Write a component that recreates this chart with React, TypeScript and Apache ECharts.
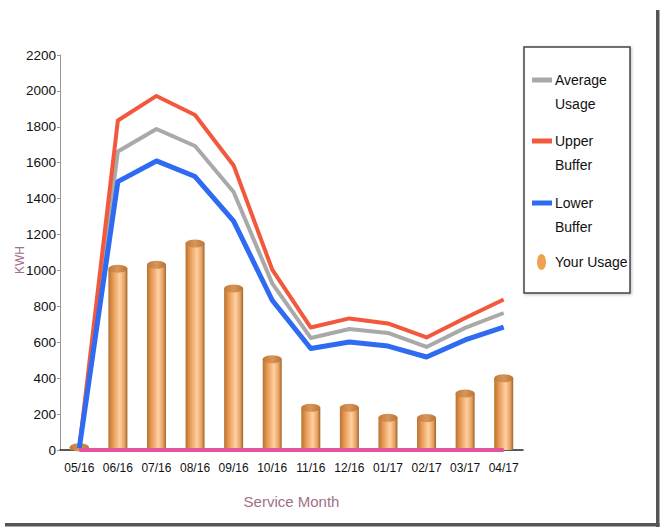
import React, { useEffect, useRef } from 'react';
import * as echarts from 'echarts';

const categories = ['05/16', '06/16', '07/16', '08/16', '09/16', '10/16', '11/16', '12/16', '01/17', '02/17', '03/17', '04/17'];
const upperBuffer = [10, 1835, 1972, 1866, 1585, 1005, 682, 733, 705, 627, 735, 838];
const averageUsage = [10, 1662, 1788, 1693, 1437, 928, 624, 674, 652, 574, 680, 763];
const lowerBuffer = [10, 1495, 1610, 1523, 1275, 834, 565, 602, 579, 518, 613, 685];
const yourUsage = [15, 1010, 1032, 1150, 900, 505, 235, 235, 180, 178, 315, 400];
const baseline = [0, 0, 0, 0, 0, 0, 0, 0, 0, 0, 0, 0];

const legendItems = [
  { lines: ['Average', 'Usage'], color: '#a9a9a9', kind: 'line' },
  { lines: ['Upper', 'Buffer'], color: '#f2583c', kind: 'line' },
  { lines: ['Lower', 'Buffer'], color: '#2f6bf2', kind: 'line' },
  { lines: ['Your Usage'], color: '#f0a050', kind: 'dot' },
];

export default function App() {
  const ref = useRef<HTMLDivElement>(null);
  useEffect(() => {
    const chart = echarts.init(ref.current!, null, { renderer: 'svg' });
    const font = '"Liberation Sans", Arial, sans-serif';
    const barGrad = new echarts.graphic.LinearGradient(0, 0, 1, 0, [
      { offset: 0, color: '#b8722f' },
      { offset: 0.25, color: '#e89a55' },
      { offset: 0.6, color: '#ffd0a2' },
      { offset: 0.85, color: '#e6a060' },
      { offset: 1, color: '#9c6228' },
    ]);
    const capGrad = new echarts.graphic.LinearGradient(0, 0, 1, 0, [
      { offset: 0, color: '#c07a3a' },
      { offset: 0.5, color: '#d99558' },
      { offset: 1, color: '#b87535' },
    ]);

    const legendY = [80, 141, 203, 262];
    const legendGraphics: any[] = [
      {
        type: 'rect',
        shape: { x: 524, y: 47, width: 106, height: 246 },
        style: { fill: '#fff', stroke: '#444', lineWidth: 1.5, shadowBlur: 3, shadowColor: 'rgba(0,0,0,0.25)', shadowOffsetX: 1, shadowOffsetY: 1 },
        z: 10,
      },
    ];
    legendItems.forEach((it, i) => {
      const y = legendY[i];
      if (it.kind === 'line') {
        legendGraphics.push({
          type: 'rect',
          shape: { x: 532, y: y - 2.5, width: 20, height: 5 },
          style: { fill: it.color },
          z: 11,
        });
      } else {
        legendGraphics.push({
          type: 'ellipse',
          shape: { cx: 541.5, cy: y, rx: 4.5, ry: 8 },
          style: { fill: it.color },
          z: 11,
        });
      }
      it.lines.forEach((t, j) => {
        legendGraphics.push({
          type: 'text',
          x: 555,
          y: y + j * 24,
          style: { text: t, fill: '#111', fontSize: 14, fontFamily: font, verticalAlign: 'middle', align: 'left' },
          z: 11,
        });
      });
    });

    chart.setOption({
      animation: false,
      backgroundColor: '#fff',
      grid: { left: 60, right: 138, top: 55, bottom: 79 },
      xAxis: {
        type: 'category',
        data: categories,
        boundaryGap: true,
        axisLine: { lineStyle: { color: '#222', width: 1.5 } },
        axisTick: { alignWithLabel: true, interval: 0, length: 5, lineStyle: { color: '#333' } },
        axisLabel: { color: '#111', fontFamily: font, fontSize: 12, margin: 12, interval: 0 },
        name: 'Service Month',
        nameLocation: 'middle',
        nameGap: 44,
        nameTextStyle: { color: '#a0708a', fontFamily: font, fontSize: 15 },
      },
      yAxis: {
        type: 'value',
        min: 0,
        max: 2200,
        interval: 200,
        axisLine: { show: true, lineStyle: { color: '#999' } },
        axisTick: { show: true, length: 3, lineStyle: { color: '#999' } },
        splitLine: { show: false },
        axisLabel: { color: '#111', fontFamily: font, fontSize: 13.5, margin: 4, formatter: (v: number) => String(v) },
      },
      graphic: [
        ...legendGraphics,
        {
          type: 'text',
          x: 20,
          y: 260,
          rotation: Math.PI / 2,
          style: { text: 'KWH', fill: '#a0708a', fontSize: 12, fontFamily: font, align: 'center', verticalAlign: 'middle' },
          z: 11,
        },
        { type: 'rect', shape: { x: 656, y: 10, width: 3.5, height: 517 }, style: { fill: '#555' }, z: 12 },
        { type: 'rect', shape: { x: 5, y: 523, width: 654.5, height: 3.5 }, style: { fill: '#555' }, z: 12 },
      ],
      series: [
        {
          name: 'Your Usage',
          type: 'bar',
          data: yourUsage,
          barWidth: 19,
          itemStyle: { color: barGrad },
          z: 2,
        },
        {
          name: 'Your Usage Cap',
          type: 'pictorialBar',
          data: yourUsage,
          symbol: 'circle',
          symbolSize: [19, 8],
          symbolPosition: 'end',
          symbolOffset: [0, '-50%'],
          itemStyle: { color: capGrad },
          z: 3,
        },
        {
          name: 'Average Usage',
          type: 'line',
          data: averageUsage,
          symbol: 'none',
          lineStyle: { color: '#a9a9a9', width: 4, join: 'round' },
          z: 4,
        },
        {
          name: 'Upper Buffer',
          type: 'line',
          data: upperBuffer,
          symbol: 'none',
          lineStyle: { color: '#f2583c', width: 4, join: 'round' },
          z: 4,
        },
        {
          name: 'Lower Buffer',
          type: 'line',
          data: lowerBuffer,
          symbol: 'none',
          lineStyle: { color: '#2f6bf2', width: 5, join: 'round' },
          z: 4,
        },
        {
          name: 'Baseline',
          type: 'line',
          data: baseline,
          symbol: 'none',
          lineStyle: { color: '#e0559e', width: 4 },
          z: 5,
        },
      ],
    });
    return () => chart.dispose();
  }, []);
  return <div ref={ref} style={{ position: 'fixed', left: 0, top: 0, width: 661, height: 529 }} />;
}
